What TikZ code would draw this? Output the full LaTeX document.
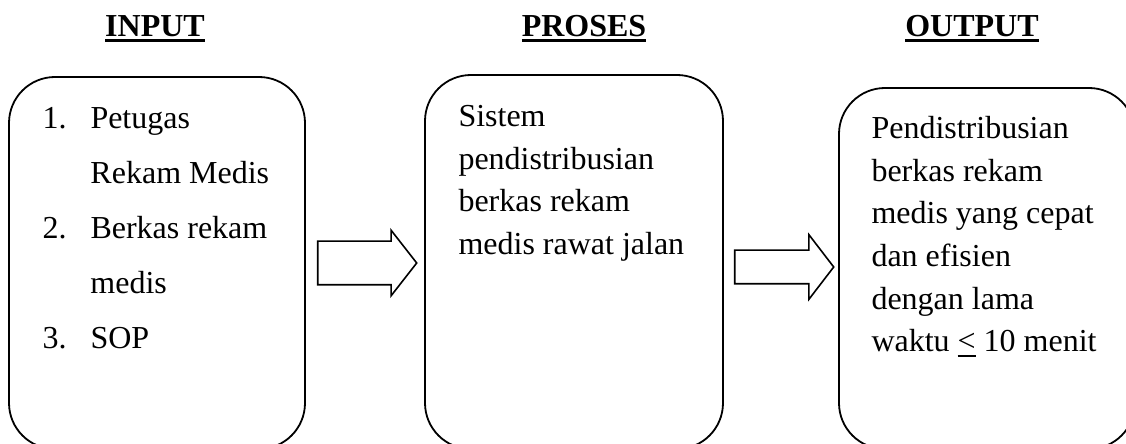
\documentclass[tikz,border=0pt]{standalone}
\usepackage{fontspec}
\setmainfont{Liberation Serif}
\usetikzlibrary{positioning,shapes.arrows}
\newcommand{\garis}[1]{\setbox0\hbox{#1}\rlap{\vrule height -1pt depth 2.4pt width \wd0}\box0}
\newcommand{\kurangsama}{\setbox0\hbox{<}\rlap{\vrule height -1.5pt depth 2.5pt width \wd0}\box0}
\begin{document}
\begin{tikzpicture}[x=.5pt,y=-.5pt,
  kotak/.style={draw,line width=.9pt,rounded corners=23pt,minimum width=148pt,inner sep=0pt},
  judul/.style={anchor=base,inner sep=0pt,font=\fontsize{16}{19}\selectfont\bfseries},
  isi/.style={align=left,inner sep=0pt,font=\fontsize{16}{21.3}\selectfont},
  panah/.style={draw,line width=.8pt,single arrow,inner xsep=0pt,minimum height=49.5pt}]
  \useasboundingbox (0,0) rectangle (1126,444);
  \clip (0,0) rectangle (1126,444);
  \node[judul] (jin) at (155,37) {\garis{INPUT}};
  \node[judul] (jpr) at (584,37) {\garis{PROSES}};
  \node[judul] (jout) at (972,37) {\garis{OUTPUT}};
  \node[kotak,minimum height=186pt] (in) at (157,263) {};
  \node[kotak,minimum width=149pt,minimum height=187pt] (pr) at (574,262) {};
  \node[kotak,minimum height=180.5pt] (out) at (987,268.5) {};
  \node[isi,font=\fontsize{16}{27.5}\selectfont,below right=15.5pt and 17pt of in.north west] (tin)
    {\makebox[24pt][l]{1.}Petugas\\\hspace*{24pt}Rekam Medis\\\makebox[24pt][l]{2.}Berkas rekam\\
     \hspace*{24pt}medis\\\makebox[24pt][l]{3.}SOP};
  \node[isi,below right=15.5pt and 17pt of pr.north west] (tpr)
    {Sistem\\pendistribusian\\berkas rekam\\medis rawat jalan};
  \node[isi,below right=14.5pt and 16.5pt of out.north west] (tout)
    {Pendistribusian\\berkas rekam\\medis yang cepat\\dan efisien\\dengan lama\\waktu \kurangsama{} 10 menit};
  \node[panah,inner ysep=10.5pt,minimum width=32pt,single arrow head extend=5.5pt,
    single arrow tip angle=104,right=5.5pt of in] (p1) {};
  \node[panah,inner ysep=8pt,minimum width=31.5pt,single arrow head extend=7.75pt,
    single arrow tip angle=105,right=5pt of pr,yshift=-2.5pt] (p2) {};
\end{tikzpicture}
\end{document}
